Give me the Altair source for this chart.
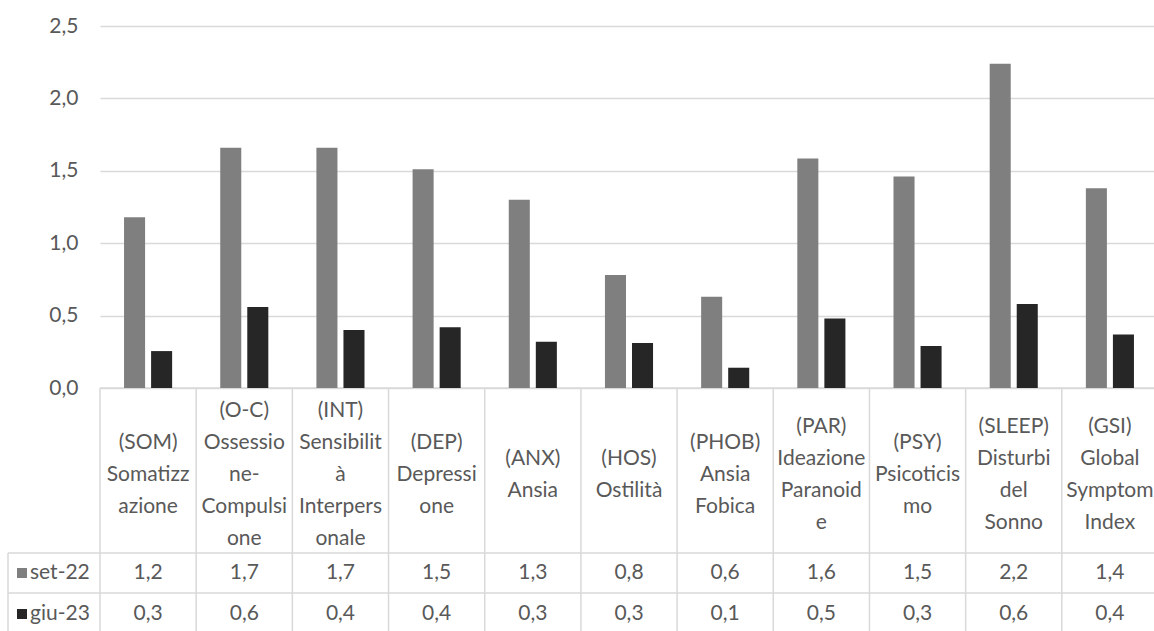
import altair as alt
import pandas as pd

# SCL-90 scale scores at the two assessments
categories = [
    "(SOM)\nSomatizz\nazione",
    "(O-C)\nOssessio\nne-\nCompulsi\none",
    "(INT)\nSensibilit\nà\nInterpers\nonale",
    "(DEP)\nDepressi\none",
    "(ANX)\nAnsia",
    "(HOS)\nOstilità",
    "(PHOB)\nAnsia\nFobica",
    "(PAR)\nIdeazione\nParanoid\ne",
    "(PSY)\nPsicoticis\nmo",
    "(SLEEP)\nDisturbi\ndel\nSonno",
    "(GSI)\nGlobal\nSymptom\nIndex",
]
series = ["set-22", "giu-23"]
set22 = [1.18, 1.66, 1.66, 1.51, 1.30, 0.78, 0.63, 1.585, 1.46, 2.24, 1.38]
giu23 = [0.255, 0.56, 0.40, 0.42, 0.32, 0.31, 0.14, 0.48, 0.29, 0.58, 0.37]
y_ticks = [0, 0.5, 1.0, 1.5, 2.0, 2.5]

rows = []
for cat, a, b in zip(categories, set22, giu23):
    rows.append({"cat": cat, "series": series[0], "value": a})
    rows.append({"cat": cat, "series": series[1], "value": b})
df = pd.DataFrame(rows)
cats_df = pd.DataFrame({"cat": categories})
series_df = pd.DataFrame({"series": series})

W, H = 1054, 362
FONT = "Lato"
TXT = "#595959"
LINE = "#d9d9d9"
FS = 21
LH = 32          # line height of the header cells
HEADER_MID = 449  # vertical centre of the header row

x_enc = alt.X("cat:N", sort=categories, axis=None,
              scale=alt.Scale(range=[0, 1058], paddingInner=0, paddingOuter=0))
color_enc = alt.Color("series:N", sort=series, legend=None,
                      scale=alt.Scale(domain=series, range=["#7f7f7f", "#262626"]))

bars = alt.Chart(df).mark_bar().encode(
    x=x_enc,
    xOffset=alt.XOffset("series:N", sort=series,
                        scale=alt.Scale(paddingInner=0.222, paddingOuter=0.889)),
    y=alt.Y("value:Q",
            scale=alt.Scale(domain=[0, 2.5], nice=False),
            axis=alt.Axis(values=y_ticks, title=None, domain=False, ticks=False,
                          grid=True, gridColor=LINE, gridWidth=1.5,
                          labelFont=FONT, labelFontSize=FS, labelColor=TXT,
                          labelPadding=22,
                          labelExpr="replace(format(datum.value, '.1f'), '.', ',')")),
    color=color_enc,
)

# data table: category header row, each block centred vertically in its cell
def header_block(n_lines):
    return alt.Chart(cats_df).transform_calculate(
        n="length(split(datum.cat, '\\n'))"
    ).transform_filter(
        alt.datum.n == n_lines
    ).mark_text(
        font=FONT, fontSize=FS, color=TXT, lineBreak="\n", lineHeight=LH,
        align="center", baseline="middle",
    ).encode(x=alt.X("cat:N", sort=categories, axis=None, bandPosition=0.5),
             y=alt.value(HEADER_MID - (n_lines - 1) * LH / 2), text="cat:N")

def value_row(name, ypix):
    return alt.Chart(df).transform_filter(
        alt.datum.series == name
    ).transform_calculate(
        label="replace(format(datum.value, '.1f'), '.', ',')"
    ).mark_text(
        font=FONT, fontSize=FS, color=TXT, align="center", baseline="middle"
    ).encode(x=alt.X("cat:N", sort=categories, axis=None, bandPosition=0.5),
             y=alt.value(ypix), text="label:N")

def legend_row(name, ypix):
    base = alt.Chart(series_df).transform_filter(alt.datum.series == name)
    key = base.mark_square(size=100, opacity=1, filled=True).encode(
        x=alt.value(-78), y=alt.value(ypix), color=color_enc)
    lab = base.mark_text(font=FONT, fontSize=FS, color=TXT, align="left",
                         baseline="middle").encode(
        x=alt.value(-70), y=alt.value(ypix), text="series:N")
    return key + lab

vlines = alt.Chart(cats_df).mark_rule(color=LINE, strokeWidth=1.5).encode(
    x=alt.X("cat:N", sort=categories, axis=None, bandPosition=0),
    y=alt.value(H), y2=alt.value(605))

def hline(ypix, x0):
    return alt.Chart(cats_df.head(1)).mark_rule(color=LINE, strokeWidth=1.5).encode(
        x=alt.value(x0), x2=alt.value(1058), y=alt.value(ypix))

left_border = alt.Chart(cats_df.head(1)).mark_rule(color=LINE, strokeWidth=1.5).encode(
    x=alt.value(-92), y=alt.value(527), y2=alt.value(605))

chart = alt.layer(
    vlines, hline(H, 0), hline(527, -92), hline(567, -92), left_border,
    bars,
    header_block(2), header_block(3), header_block(4), header_block(5),
    value_row("set-22", 547), value_row("giu-23", 588),
    legend_row("set-22", 547), legend_row("giu-23", 588),
).properties(
    width=W, height=H,
    autosize=alt.AutoSizeParams(type="none"),
    padding={"left": 100, "top": 26, "right": 0, "bottom": 243},
    background="white",
).configure_view(stroke=None)

chart.save("out.html", embed_options={"renderer": "svg", "actions": False})
